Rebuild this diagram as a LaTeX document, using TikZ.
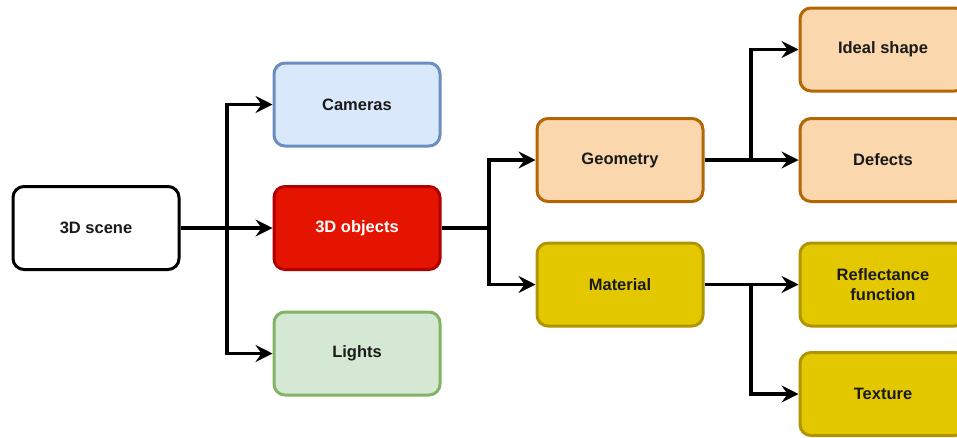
\documentclass[tikz,border=0pt]{standalone}
\usepackage{fontspec}
\setmainfont{Liberation Sans}
\usetikzlibrary{arrows.meta}

\definecolor{camfill}{HTML}{DAE8FC}
\definecolor{camline}{HTML}{6C8EBF}
\definecolor{objfill}{HTML}{E51400}
\definecolor{objline}{HTML}{B20000}
\definecolor{lightfill}{HTML}{D5E8D4}
\definecolor{lightline}{HTML}{82B366}
\definecolor{geofill}{HTML}{FAD7AC}
\definecolor{geoline}{HTML}{B46504}
\definecolor{matfill}{HTML}{E3C800}
\definecolor{matline}{HTML}{B09500}
\definecolor{txt}{HTML}{1A1A1A}

\tikzset{
  box/.style={rounded corners=11pt, line width=3pt, minimum width=166pt,
    minimum height=83pt, align=center, text=txt,
    font=\fontsize{16.5}{21}\selectfont\bfseries, inner sep=0pt},
  plainbox/.style={box, draw=black, fill=white},
  cambox/.style={box, draw=camline, fill=camfill},
  objbox/.style={box, draw=objline, fill=objfill, text=white},
  lightbox/.style={box, draw=lightline, fill=lightfill},
  geobox/.style={box, draw=geoline, fill=geofill},
  matbox/.style={box, draw=matline, fill=matfill},
  link/.style={line width=3.2pt, draw=black, line join=miter},
  arrowlink/.style={link, -{Stealth[length=17pt, width=17pt, inset=6pt]}},
}

\begin{document}
\begin{tikzpicture}[x=1pt, y=-1pt]
\useasboundingbox (0,0) rectangle (957,437);

% first level
\node[plainbox] (scene) at (96,228) {3D scene};
\node[cambox]   (cameras) at (357,104.5) {Cameras};
\node[objbox]   (objects) at (357,228) {3D objects};
\node[lightbox] (lights) at (357,353.5) {Lights};

% object properties
\node[geobox] (geometry) at (620,160) {Geometry};
\node[matbox] (material) at (620,284.5) {Material};

% leaves (running past the right edge)
\node[geobox] (ideal)   at (883,49.5) {Ideal shape};
\node[geobox] (defects) at (883,160) {Defects};
\node[matbox] (reflect) at (883,284.5) {Reflectance\\[-1pt]function};
\node[matbox] (texture) at (883,394) {Texture};

% branch points
\coordinate (s1) at (227,228);
\coordinate (s2) at (489,228);
\coordinate (s3) at (751,160);
\coordinate (s4) at (751,284.5);

% connectors
\draw[arrowlink] (scene.east) -- (objects.west);
\draw[arrowlink] (s1) |- (cameras.west);
\draw[arrowlink] (s1) |- (lights.west);

\draw[link] (objects.east) -- (s2);
\draw[arrowlink] (s2) |- (geometry.west);
\draw[arrowlink] (s2) |- (material.west);

\draw[arrowlink] (geometry.east) -- (defects.west);
\draw[arrowlink] (s3) |- (ideal.west);

\draw[arrowlink] (material.east) -- (reflect.west);
\draw[arrowlink] (s4) |- (texture.west);
\end{tikzpicture}
\end{document}
